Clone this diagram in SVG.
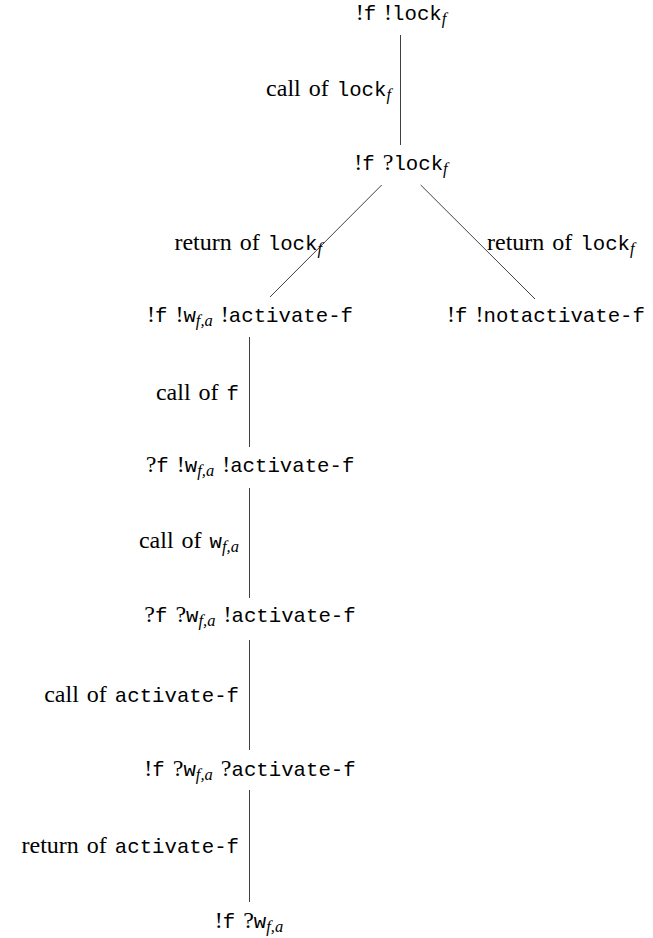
<svg xmlns="http://www.w3.org/2000/svg" width="653" height="938" viewBox="0 0 653 938">
<style>
text { fill: #000; word-spacing: 2px; }
.s { font-family: "Liberation Serif", "DejaVu Serif", "Times New Roman", serif; font-size: 24px; }
.m { font-family: "Liberation Mono", "DejaVu Sans Mono", "Courier New", monospace; font-size: 20.7px; }
.i { font-family: "Liberation Serif", "DejaVu Serif", "Times New Roman", serif; font-style: italic; font-size: 16.5px; }
.e line { stroke: #000; stroke-width: 0.75; fill: none; }
</style>
<rect width="653" height="938" fill="#fff"/>
<g id="connectors" class="e">
  <line x1="400.5" y1="35" x2="400.5" y2="145"/>
  <line x1="381.7" y1="185" x2="270" y2="297"/>
  <line x1="420.7" y1="185" x2="535" y2="299"/>
  <line x1="249.5" y1="337" x2="249.5" y2="447"/>
  <line x1="249.5" y1="488" x2="249.5" y2="598"/>
  <line x1="249.5" y1="640" x2="249.5" y2="750"/>
  <line x1="249.5" y1="790" x2="249.5" y2="902"/>
</g>
<g id="labels">
  <text x="391" y="96" text-anchor="end"><tspan class="s">call of </tspan><tspan class="m">lock</tspan><tspan class="i" dy="4">f</tspan></text>
  <text x="322" y="250" text-anchor="end"><tspan class="s">return of </tspan><tspan class="m">lock</tspan><tspan class="i" dy="4">f</tspan></text>
  <text x="487" y="250"><tspan class="s">return of </tspan><tspan class="m">lock</tspan><tspan class="i" dy="4">f</tspan></text>
  <text x="239" y="400" text-anchor="end"><tspan class="s">call of </tspan><tspan class="m">f</tspan></text>
  <text x="239" y="548" text-anchor="end"><tspan class="s">call of </tspan><tspan class="m">w</tspan><tspan class="i" dy="4">f,a</tspan></text>
  <text x="239" y="702" text-anchor="end"><tspan class="s">call of </tspan><tspan class="m">activate-f</tspan></text>
  <text x="239" y="853" text-anchor="end"><tspan class="s">return of </tspan><tspan class="m">activate-f</tspan></text>
</g>
<g id="n1">
  <text x="401" y="20" text-anchor="middle"><tspan class="s">!</tspan><tspan class="m">f</tspan><tspan class="s"> !</tspan><tspan class="m">lock</tspan><tspan class="i" dy="4">f</tspan></text>
</g>
<g id="n2">
  <text x="401" y="170" text-anchor="middle"><tspan class="s">!</tspan><tspan class="m">f</tspan><tspan class="s"> ?</tspan><tspan class="m">lock</tspan><tspan class="i" dy="4">f</tspan></text>
</g>
<g id="n3">
  <text x="250" y="322" text-anchor="middle"><tspan class="s">!</tspan><tspan class="m">f</tspan><tspan class="s"> !</tspan><tspan class="m">w</tspan><tspan class="i" dy="4">f,a</tspan><tspan class="s" dy="-4"> !</tspan><tspan class="m">activate-f</tspan></text>
</g>
<g id="n4">
  <text x="546" y="322" text-anchor="middle"><tspan class="s">!</tspan><tspan class="m">f</tspan><tspan class="s"> !</tspan><tspan class="m">notactivate-f</tspan></text>
</g>
<g id="n5">
  <text x="250" y="472" text-anchor="middle"><tspan class="s">?</tspan><tspan class="m">f</tspan><tspan class="s"> !</tspan><tspan class="m">w</tspan><tspan class="i" dy="4">f,a</tspan><tspan class="s" dy="-4"> !</tspan><tspan class="m">activate-f</tspan></text>
</g>
<g id="n6">
  <text x="250" y="622" text-anchor="middle"><tspan class="s">?</tspan><tspan class="m">f</tspan><tspan class="s"> ?</tspan><tspan class="m">w</tspan><tspan class="i" dy="4">f,a</tspan><tspan class="s" dy="-4"> !</tspan><tspan class="m">activate-f</tspan></text>
</g>
<g id="n7">
  <text x="250" y="776" text-anchor="middle"><tspan class="s">!</tspan><tspan class="m">f</tspan><tspan class="s"> ?</tspan><tspan class="m">w</tspan><tspan class="i" dy="4">f,a</tspan><tspan class="s" dy="-4"> ?</tspan><tspan class="m">activate-f</tspan></text>
</g>
<g id="n8">
  <text x="249" y="928" text-anchor="middle"><tspan class="s">!</tspan><tspan class="m">f</tspan><tspan class="s"> ?</tspan><tspan class="m">w</tspan><tspan class="i" dy="4">f,a</tspan></text>
</g>
</svg>
